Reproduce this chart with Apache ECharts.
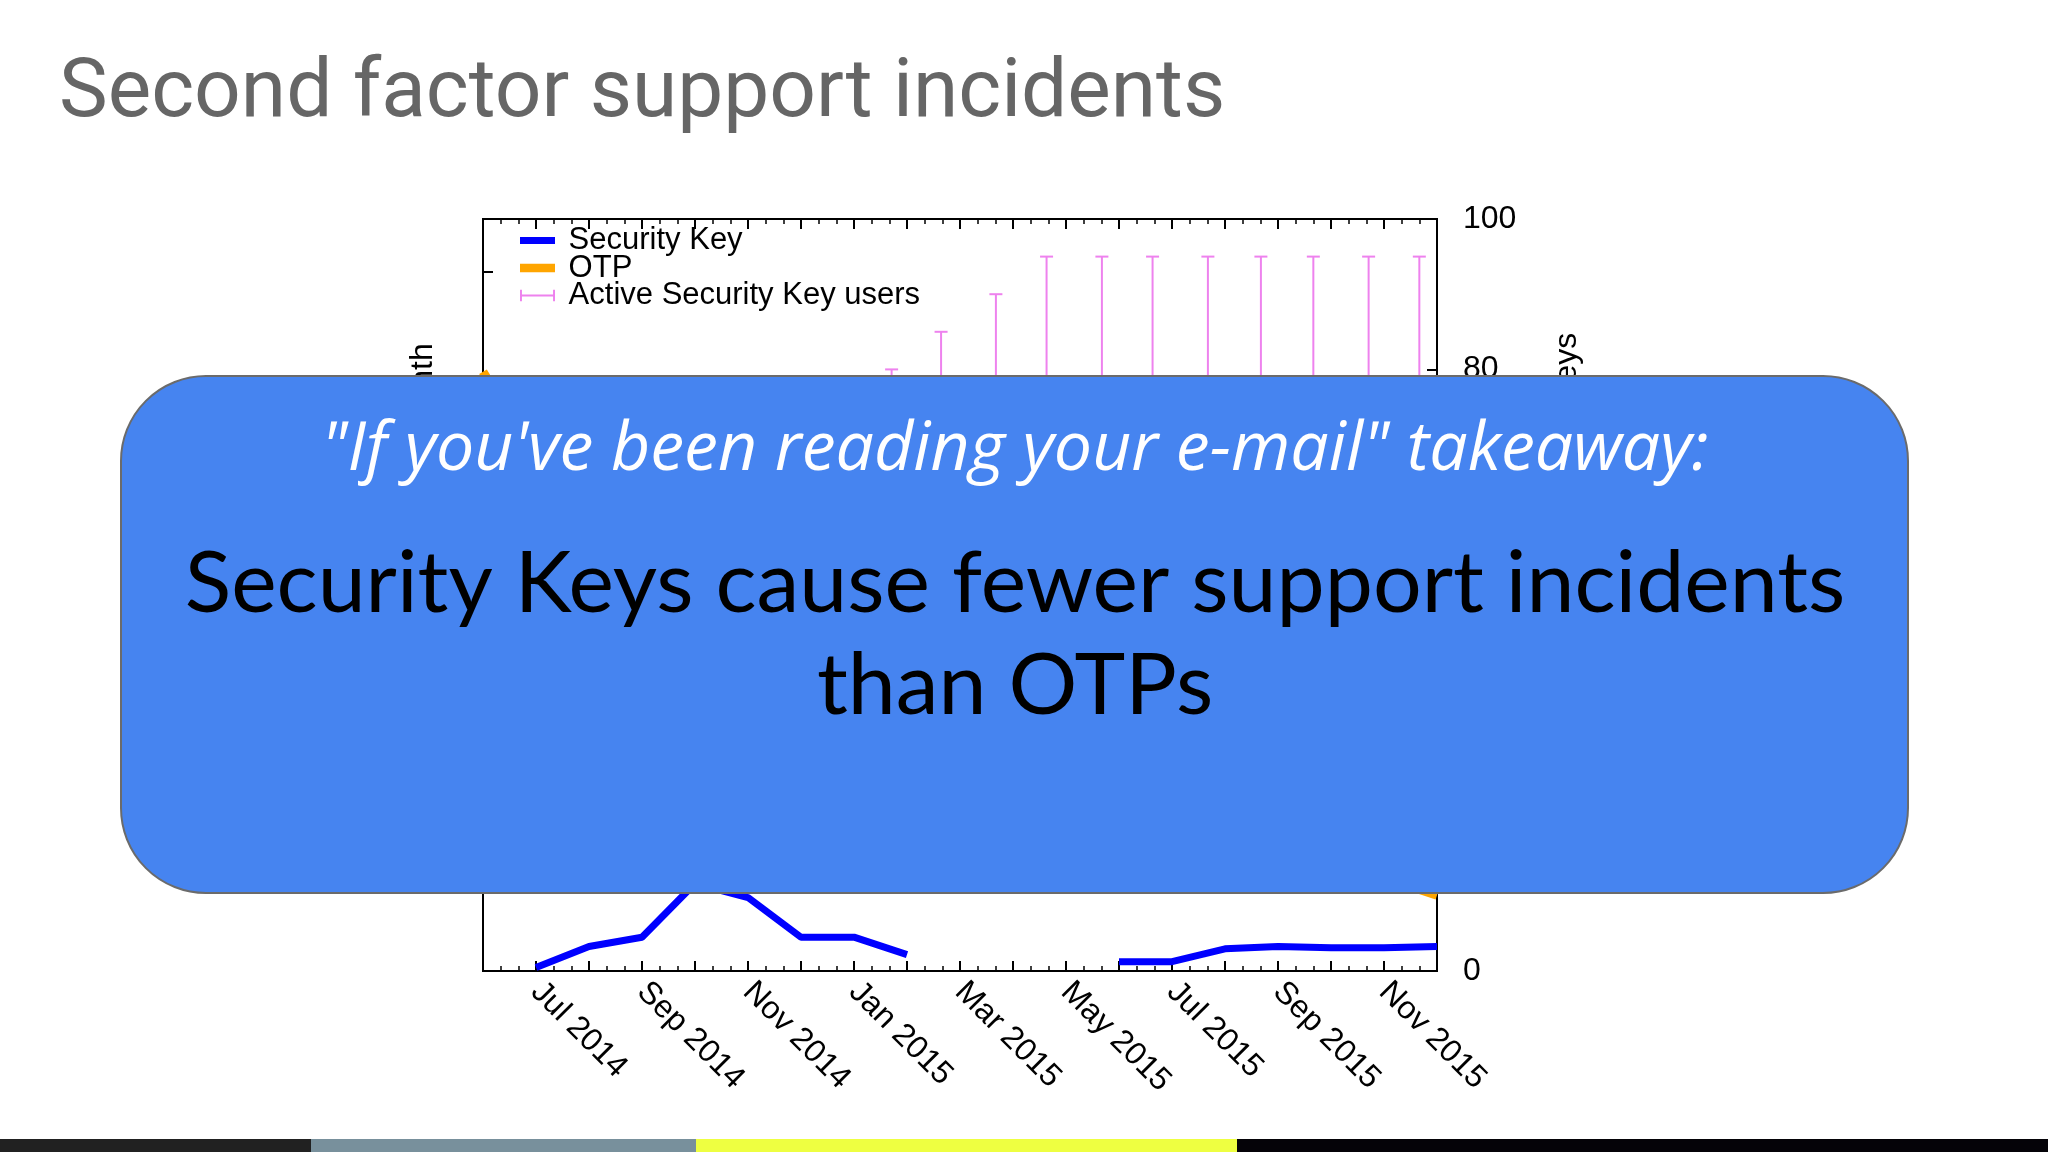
<!DOCTYPE html>
<html>
<head>
<meta charset="utf-8">
<title>Second factor support incidents</title>
<script src="https://cdn.jsdelivr.net/npm/echarts@6/dist/echarts.min.js"></script>
<style>
    html, body { margin: 0; padding: 0; background: #fff; }
    #chart { width: 2048px; height: 1152px; }
</style>
</head>
<body>
<div id="chart"></div>
<script>
// months on the x axis, index 0 = Jun 2014
const months = ['Jun 2014', 'Jul 2014', 'Aug 2014', 'Sep 2014', 'Oct 2014', 'Nov 2014', 'Dec 2014',
    'Jan 2015', 'Feb 2015', 'Mar 2015', 'Apr 2015', 'May 2015', 'Jun 2015', 'Jul 2015', 'Aug 2015',
    'Sep 2015', 'Oct 2015', 'Nov 2015', 'Dec 2015'];

// incidents per month (left axis)
const securityKey = [null, 0.3, 2.1, 2.9, 7.5, 6.3, 2.9, 2.9, 1.4, null, null, null, 0.8, 0.8, 1.9, 2.1, 2.0, 2.0, 2.1];
const otp = [51.4, 44, 38, 35, 40, 33, 28, 30, 24, 20, 17, 15, 13, 12, 10, 9, 8.5, 8, 6.5];

// active Security Key users (right axis), error bars low..high
const activeDates = ['2015-01-23', '2015-02-19', '2015-03-22', '2015-04-20', '2015-05-22', '2015-06-20',
    '2015-07-22', '2015-08-22', '2015-09-21', '2015-10-23', '2015-11-21'];
const activeLow = [40, 44, 52, 58, 62, 66, 68, 70, 71, 72, 73];
const activeHigh = [80, 85, 90, 95, 95, 95, 95, 95, 95, 95, 95];

const rightTicks = [0, 20, 40, 60, 80, 100];

const gpFont = 'Liberation Sans';

// date string -> fractional month index (Jun 2014 = 0)
const monthPos = (s) => {
    const [y, m, d] = s.split('-').map(Number);
    const days = new Date(y, m, 0).getDate();
    return (y - 2014) * 12 + (m - 1) - 5 + (d - 1) / days;
};

const pairs = (arr) => arr.map((v, i) => [i, v == null ? '-' : v]);

const chart = echarts.init(document.getElementById('chart'));

const xCommon = {
    type: 'value',
    min: 0,
    max: months.length - 1,
    interval: 1,
    axisLine: { onZero: false, lineStyle: { color: '#000', width: 2 } },
    axisTick: { inside: true, length: 10, lineStyle: { color: '#000', width: 2 } },
    minorTick: { show: true, splitNumber: 3, length: 5, lineStyle: { color: '#000', width: 1.5 } },
    splitLine: { show: false }
};

chart.setOption({
    backgroundColor: '#ffffff',
    animation: false,
    title: {
        text: 'Second factor support incidents',
        left: 59,
        top: 54,
        padding: 0,
        textStyle: { fontFamily: 'Roboto', fontSize: 82, fontWeight: 'normal', color: '#666666' }
    },
    legend: {
        orient: 'vertical',
        left: 520,
        top: 225,
        padding: 0,
        itemGap: -3.5,
        itemWidth: 35,
        itemHeight: 14,
        selectedMode: false,
        formatter: (name) => ' ' + name,
        textStyle: { fontFamily: gpFont, fontSize: 31, color: '#000', lineHeight: 27.5 },
        data: [
            { name: 'Security Key', icon: 'path://M0,0H35V7H0Z', itemStyle: { color: '#0000FF' } },
            { name: 'OTP', icon: 'path://M0,0H37V9H0Z', itemStyle: { color: '#FFA500' } },
            {
                name: 'Active Security Key users',
                icon: 'path://M0,0H2V12H0Z M0,5H36V7H0Z M34,0H36V12H34Z',
                itemStyle: { color: '#EE82EE' }
            }
        ]
    },
    grid: {
        left: 483,
        top: 219,
        width: 954,
        height: 752,
        show: true,
        borderColor: '#000',
        borderWidth: 2,
        backgroundColor: 'transparent'
    },
    xAxis: [
        Object.assign({}, xCommon, {
            position: 'bottom',
            axisLabel: {
                rotate: -45,
                margin: 16,
                fontFamily: gpFont,
                fontSize: 32,
                color: '#000',
                formatter: (v) => {
                    const i = Math.round(v);
                    return Math.abs(v - i) < 1e-6 && i % 2 === 1 ? months[i] : '';
                }
            }
        }),
        Object.assign({}, xCommon, {
            position: 'top',
            axisLabel: { show: false }
        })
    ],
    yAxis: [
        {
            type: 'value',
            position: 'left',
            min: 0,
            max: 64.5,
            interval: 10,
            name: 'Incidents per 1000 users per month',
            nameLocation: 'middle',
            nameRotate: 90,
            nameGap: 44,
            nameTextStyle: { fontFamily: gpFont, fontSize: 32, color: '#000' },
            axisLine: { onZero: false, lineStyle: { color: '#000', width: 2 } },
            axisTick: { inside: true, length: 10, lineStyle: { color: '#000', width: 2 } },
            axisLabel: { show: false },
            splitLine: { show: false }
        },
        {
            type: 'value',
            position: 'right',
            min: rightTicks[0],
            max: rightTicks[rightTicks.length - 1],
            interval: rightTicks[1] - rightTicks[0],
            name: 'Number of people with Security Keys',
            nameLocation: 'middle',
            nameRotate: 90,
            nameGap: 114,
            nameTextStyle: { fontFamily: gpFont, fontSize: 32, color: '#000' },
            axisLine: { onZero: false, lineStyle: { color: '#000', width: 2 } },
            axisTick: { inside: true, length: 10, lineStyle: { color: '#000', width: 2 } },
            axisLabel: { margin: 26, fontFamily: gpFont, fontSize: 32, color: '#000' },
            splitLine: { show: false }
        }
    ],
    series: [
        {
            name: 'Security Key',
            type: 'line',
            xAxisIndex: 0,
            yAxisIndex: 0,
            data: pairs(securityKey),
            symbol: 'none',
            connectNulls: false,
            color: '#0000FF',
            lineStyle: { color: '#0000FF', width: 7 },
            z: 3
        },
        {
            name: 'OTP',
            type: 'line',
            xAxisIndex: 0,
            yAxisIndex: 0,
            data: pairs(otp),
            symbol: 'none',
            color: '#FFA500',
            lineStyle: { color: '#FFA500', width: 9 },
            z: 2
        },
        {
            name: 'Active Security Key users',
            type: 'custom',
            xAxisIndex: 0,
            yAxisIndex: 1,
            color: '#EE82EE',
            itemStyle: { color: '#EE82EE' },
            encode: { x: 0, y: [1, 2] },
            data: activeDates.map((d, i) => [monthPos(d), activeLow[i], activeHigh[i]]),
            renderItem: (params, api) => {
                const hi = api.coord([api.value(0), api.value(2)]);
                const lo = api.coord([api.value(0), api.value(1)]);
                const half = 6.5;
                const style = { stroke: '#EE82EE', lineWidth: 2, fill: null };
                return {
                    type: 'group',
                    children: [
                        { type: 'line', shape: { x1: hi[0], y1: hi[1], x2: lo[0], y2: lo[1] }, style: style },
                        { type: 'line', shape: { x1: hi[0] - half, y1: hi[1], x2: hi[0] + half, y2: hi[1] }, style: style },
                        { type: 'line', shape: { x1: lo[0] - half, y1: lo[1], x2: lo[0] + half, y2: lo[1] }, style: style }
                    ]
                };
            },
            z: 1
        }
    ],
    graphic: [
        {
            type: 'rect',
            z: 100,
            shape: { x: 121, y: 376, width: 1787, height: 517, r: 85 },
            style: { fill: '#4684F0', stroke: '#6b6b6b', lineWidth: 2 }
        },
        {
            type: 'text',
            z: 101,
            x: 1015,
            y: 451,
            style: {
                text: '"If you\'ve been reading your e-mail" takeaway:',
                fill: '#ffffff',
                font: 'italic 68px "Open Sans"',
                align: 'center',
                verticalAlign: 'middle'
            }
        },
        {
            type: 'text',
            z: 101,
            x: 1015,
            y: 584,
            style: {
                text: 'Security Keys cause fewer support incidents',
                fill: '#000000',
                font: '86px Lato',
                align: 'center',
                verticalAlign: 'middle'
            }
        },
        {
            type: 'text',
            z: 101,
            x: 1015,
            y: 686,
            style: {
                text: 'than OTPs',
                fill: '#000000',
                font: '86px Lato',
                align: 'center',
                verticalAlign: 'middle'
            }
        },
        { type: 'rect', z: 100, shape: { x: 0, y: 1139, width: 311, height: 13 }, style: { fill: '#212121' } },
        { type: 'rect', z: 100, shape: { x: 311, y: 1139, width: 385, height: 13 }, style: { fill: '#78909C' } },
        { type: 'rect', z: 100, shape: { x: 696, y: 1139, width: 541, height: 13 }, style: { fill: '#EEFF41' } },
        { type: 'rect', z: 100, shape: { x: 1237, y: 1139, width: 811, height: 13 }, style: { fill: '#050308' } }
    ]
});
</script>
</body>
</html>
